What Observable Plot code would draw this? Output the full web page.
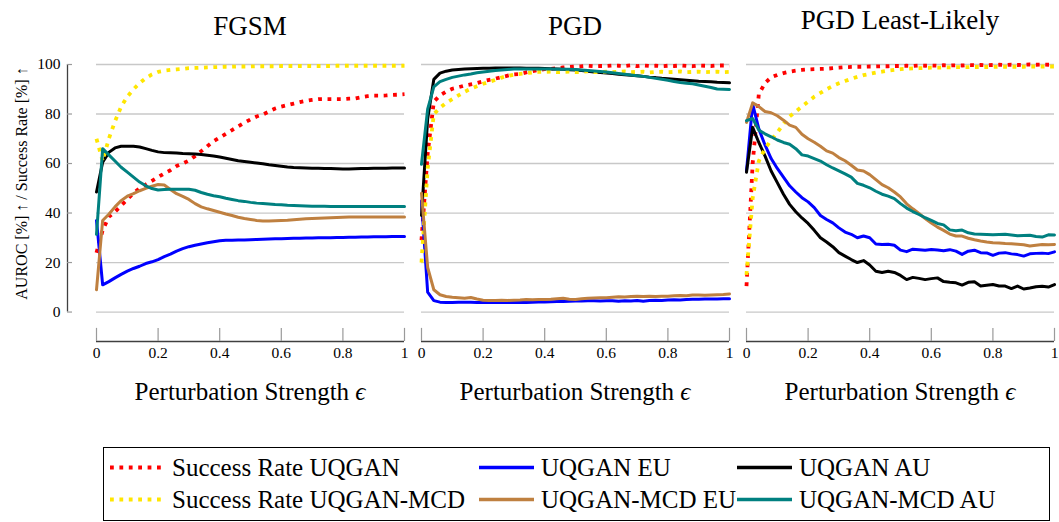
<!DOCTYPE html>
<html><head><meta charset="utf-8">
<script src="https://cdn.jsdelivr.net/npm/d3@7"></script>
<script src="https://cdn.jsdelivr.net/npm/@observablehq/plot@0.6"></script>
<style>
body{margin:0;background:#fff;}
#wrap{position:relative;width:1059px;height:522px;overflow:hidden;font-family:"Liberation Serif",serif;color:#000;}
.panel{position:absolute;top:0;}
.title{position:absolute;font-size:27px;transform:translateX(-50%);white-space:nowrap;line-height:1;}
.xt{position:absolute;font-size:25px;transform:translateX(-50%);white-space:nowrap;line-height:1;}
#legend{position:absolute;left:103px;top:447px;width:947px;height:74px;border:1px solid #000;box-sizing:border-box;}
.item{position:absolute;display:flex;align-items:center;font-size:25px;white-space:nowrap;transform:translateY(-50%);line-height:1;}
.item span{margin-left:7px;}
</style>
</head><body>
<div id="wrap"></div>
<script>
// ---------- data ----------
const panelTitles = ["FGSM", "PGD", "PGD Least-Likely"];
const seriesNames = ["Success Rate UQGAN", "UQGAN EU", "UQGAN AU", "Success Rate UQGAN-MCD", "UQGAN-MCD EU", "UQGAN-MCD AU"];
const seriesColors = ["#ff0000", "#0000ff", "#000000", "#ffe600", "#bf8040", "#008080"];
const seriesDotted = [true, false, false, true, false, false];
const xTicks = [0, 0.2, 0.4, 0.6, 0.8, 1];
const xTickLabels = ["0", "0.2", "0.4", "0.6", "0.8", "1"];
const yTicks = [0, 20, 40, 60, 80, 100];
const yTickLabels = ["0", "20", "40", "60", "80", "100"];
const xTitle = "Perturbation Strength ";
const yTitle = "AUROC [%] \u2191 / Success Rate [%] \u2191";

const eps = [0,0.02,0.04,0.06,0.08,0.1,0.12,0.14,0.16,0.18,
  0.2,0.22,0.24,0.26,0.28,0.3,0.32,0.34,0.36,0.38,
  0.4,0.42,0.44,0.46,0.48,0.5,0.52,0.54,0.56,0.58,
  0.6,0.62,0.64,0.66,0.68,0.7,0.72,0.74,0.76,0.78,
  0.8,0.82,0.84,0.86,0.88,0.9,0.92,0.94,0.96,0.98,1];

// FGSM
const fgsmSrUqgan = [24,33,38.5,40.5,43,45.5,48,50,51.5,53,
  54.5,56,57.3,59,60,61.2,63,65,67,69,
  70.5,72,73.5,75,76.5,77.8,79,79.8,81,82.2,
  83,83.6,84.2,84.8,85.3,85.7,86,86,86,86,
  86,86.2,86.3,86.8,87.2,87.4,87.4,87.5,87.7,87.8,88];
const fgsmEuUqgan = [37,11,12.3,13.8,15.2,16.5,17.6,18.5,19.6,20.3,
  21.2,22.4,23.4,24.6,25.6,26.4,27,27.5,28,28.4,
  28.8,29,29,29.1,29.1,29.2,29.3,29.4,29.5,29.6,
  29.6,29.7,29.8,29.8,29.9,29.9,30,30,30,30.1,
  30.1,30.2,30.2,30.3,30.3,30.4,30.4,30.4,30.5,30.5,30.5];
const fgsmAuUqgan = [48.5,60.5,64.5,66.3,67,67,67,66.7,66,65.3,
  64.7,64.4,64.3,64.2,64,63.9,63.8,63.6,63.3,63,
  62.6,62.1,61.6,61.1,60.8,60.5,60.2,59.9,59.5,59.2,
  58.9,58.6,58.4,58.3,58.2,58.1,58.1,58,58,57.9,
  57.8,57.8,57.9,58,58,58.1,58.1,58.1,58.2,58.2,58.2];
const fgsmSrMcd = [70,61,70,77,83,87,90,92.5,94.5,96,
  97,97.5,97.8,98,98.2,98.5,98.6,98.7,98.8,98.9,
  99,99.1,99.1,99.2,99.2,99.2,99.3,99.3,99.3,99.3,
  99.4,99.4,99.4,99.4,99.4,99.4,99.4,99.4,99.4,99.5,
  99.5,99.5,99.5,99.5,99.5,99.5,99.5,99.5,99.5,99.5,99.5];
const fgsmEuMcd = [9,37,39.5,42.5,45,46.8,47.8,49,50,50.8,
  51.5,51.3,49.5,47.8,46.7,45.5,43.8,42.5,41.7,41,
  40.3,39.6,39,38.3,37.8,37.4,37,36.8,36.8,36.9,
  37,37.1,37.3,37.5,37.7,37.8,37.9,38,38.1,38.2,
  38.3,38.4,38.4,38.4,38.4,38.4,38.4,38.4,38.4,38.4,38.4];
const fgsmAuMcd = [31.4,66,63.5,61,58.5,56.5,54.5,52.5,51,49.9,
  49.3,49.5,49.6,49.6,49.6,49.6,49.2,48.3,47.6,47,
  46.6,46,45.5,45,44.7,44.3,44,43.8,43.6,43.4,
  43.3,43.1,43,42.9,42.8,42.7,42.7,42.7,42.6,42.6,
  42.6,42.6,42.6,42.6,42.6,42.6,42.6,42.6,42.6,42.6,42.6];

// PGD
const pgdSrUqgan = [29,64,85,87.5,89,90.2,90.8,91.5,92,92.5,
  93.2,93.8,94.3,94.9,95.5,96,96.2,96.8,97.3,97.8,
  98.1,98.2,98.5,98.8,99,99.2,99.3,99.5,99.3,99.4,
  99.4,99.6,99.5,99.4,99.7,99.3,99.6,99.4,99.5,99.3,
  99.5,99.4,99.6,99.4,99.3,99.6,99.5,99.4,99.6,99.6,99.6];
const pgdEuUqgan = [45,8,4.6,4,3.9,3.9,4,4,4,3.9,
  3.9,3.9,3.9,4,3.9,3.9,4,3.9,4,4.1,
  4.1,4.2,4.3,4.3,4.4,4.5,4.5,4.6,4.6,4.5,
  4.6,4.6,4.4,4.6,4.5,4.7,4.4,4.7,4.8,4.7,
  4.9,5,4.9,5.1,5.2,5.2,5.3,5.3,5.3,5.4,5.4];
const pgdAuUqgan = [39,78,94,96.5,97.3,97.8,98,98.2,98.3,98.4,
  98.5,98.5,98.6,98.6,98.6,98.6,98.6,98.5,98.5,98.5,
  98.4,98.3,98.2,98.1,97.9,97.8,97.6,97.3,97,96.8,
  96.6,96.4,96.1,95.9,95.7,95.5,95.2,94.9,94.7,94.4,
  94.2,94,93.8,93.6,93.4,93.2,93.1,93,92.8,92.7,92.6];
const pgdSrMcd = [20,58,80,82.5,84.5,86,87.5,89,90.2,91.2,
  92.2,93,93.8,94.7,95.4,95.9,96.2,96.5,96.8,97,
  97,97.1,96.9,97,97.1,96.9,97,97.2,96.9,97,
  97.1,96.9,97,97.2,96.9,97,97.1,96.8,97,97.1,
  96.9,97,97.2,96.9,97,97.1,96.9,97,97.1,96.9,97];
const pgdEuMcd = [48,18,9,7,6.3,6,5.8,5.6,5.9,5.3,
  4.8,4.7,4.7,4.8,4.7,4.8,4.9,5.1,5,5.1,
  5.1,5.2,5.4,5.6,5.2,5.1,5.4,5.6,5.7,5.8,
  5.8,6,6.2,6.1,6.3,6.4,6.3,6.4,6.3,6.4,
  6.4,6.6,6.7,6.6,6.9,6.9,6.8,6.9,7,7.1,7.3];
const pgdAuMcd = [59.7,82,91,93.1,94,94.8,95.3,95.8,96.2,96.7,
  97,97.3,97.6,97.8,98,98.2,98.2,98.2,98.2,98.2,
  98.2,98.2,98.1,98.1,98.1,98,97.8,97.6,97.4,97.2,
  97,96.7,96.4,96.1,95.8,95.5,95.2,94.8,94.4,94,
  93.6,93.1,92.7,92.4,92.2,91.7,91.2,90.7,90.1,90,89.9];

// PGD Least-Likely
const llSrUqgan = [10.5,60,88,92.5,94.8,95.8,96.5,97.1,97.5,97.8,
  98,98.1,98.2,98.3,98.5,98.7,98.9,99,99.1,99.1,
  99.2,99.2,99.3,99.3,99.4,99.4,99.5,99.4,99.6,99.5,
  99.6,99.5,99.7,99.6,99.7,99.6,99.8,99.7,99.8,99.7,
  99.8,99.9,99.8,99.9,99.8,99.9,100,99.9,100,99.9,100];
const llEuUqgan = [57,84,74,67.5,62,58,54.5,51,48.5,46.2,
  44.5,42.2,39,37.4,36,34,32.3,31.4,30,30.7,
  30,27.5,27.3,27.4,27,25,24.4,25.4,25.2,25,
  25.3,25.1,24.8,25.2,24.6,23.3,24.6,25,24,23.9,
  22.9,23.8,24,23.5,23.2,22.6,23.5,23.7,23.8,23.6,24.3];
const llAuUqgan = [56.5,74.6,68.5,63.1,57,52.3,47.6,43.5,40.5,38,
  35.8,33,30,28.3,26.4,24,22.6,21.2,20,20.8,
  19,16.5,16,16.5,16,14.8,13.1,14,13.6,13.1,
  13.5,13.8,12.3,12,11.8,10.9,12,12.2,10.5,10.8,
  11.1,10.5,10.5,9.5,10.5,9.3,9.7,10.2,10.4,10.1,11.1];
const llSrMcd = [15,46,61,66,69.5,72.5,76,79,81,83,
  85,87,88.5,90,91.3,92.4,93.3,94.2,95,95.7,
  96.2,96.7,97.1,97.5,97.8,98.1,98.3,98.4,98.5,98.6,
  98.7,98.7,98.8,98.8,98.9,98.9,98.9,99,99,99,
  99,99.1,99.1,99.1,99.1,99.1,99.2,99.2,99.2,99.2,99.2];
const llEuMcd = [76.6,84.5,83,81,80.5,79.3,77.5,75.5,74.6,71.8,
  70,68.6,67,65.1,64.2,62.4,61.1,59.3,57.4,57,
  55.5,53.5,51.5,50.2,48.5,46.5,43.7,41.7,39.8,37.8,
  36,34.3,33,31.5,30.7,30.7,29.8,29.2,28.7,28.3,
  28,27.9,27.7,27.6,27.4,27.2,26.7,27,27.3,27.2,27.3];
const llAuMcd = [77.3,78.2,73.5,72,70.8,69.5,68.5,67.8,66,63.5,
  63,62,61,59.5,58.2,57,55.8,54.5,52,51.2,
  50.2,48.8,47.6,46.8,45.8,43.8,42,40.6,39.4,38.1,
  37,35.8,35.2,33.2,32.8,33.1,32,31.5,31.4,31.3,
  31.2,31.3,31.4,31.1,30.8,30.9,31,30.5,30.3,31.2,31.1];

const panelSeries = [
  [fgsmSrUqgan, fgsmEuUqgan, fgsmAuUqgan, fgsmSrMcd, fgsmEuMcd, fgsmAuMcd],
  [pgdSrUqgan, pgdEuUqgan, pgdAuUqgan, pgdSrMcd, pgdEuMcd, pgdAuMcd],
  [llSrUqgan, llEuUqgan, llAuUqgan, llSrMcd, llEuMcd, llAuMcd]
];

// ---------- layout ----------
const wrap = document.getElementById("wrap");
const yDomain = [-11.9, 100];
const layout = [
  {left: 0, width: 408, ml: 96, mr: 4, cx: 250, titleTop: 13},
  {left: 408, width: 325, ml: 13, mr: 4, cx: 575, titleTop: 13},
  {left: 733, width: 326, ml: 13, mr: 5, cx: 900, titleTop: 7}
];
const DOT = {strokeWidth: 3.8, strokeDasharray: "3.8,5.6", strokeLinecap: "butt"};

function lineMark(values, k) {
  const base = {x: (d, i) => eps[i], y: d => d, stroke: seriesColors[k]};
  if (seriesDotted[k]) return Plot.line(values, {...base, ...DOT});
  return Plot.line(values, {...base, strokeWidth: 3, strokeLinejoin: "round"});
}

layout.forEach((L, p) => {
  const innerW = L.width - L.ml - L.mr;
  const axisX = -29 / innerW;
  const marks = [
    Plot.ruleY(yTicks, {stroke: "#c8c8c8", strokeWidth: 1.3}),
    Plot.ruleY([yDomain[0]], {stroke: "#404040", strokeWidth: 1.3}),
    Plot.ruleX(xTicks, {y1: yDomain[0], y2: yDomain[0] + 5.3, stroke: "#9a9a9a", strokeWidth: 1.2}),
    Plot.text(xTicks, {x: d => d, frameAnchor: "bottom", dy: 16, text: (d, i) => xTickLabels[i], fontSize: 15.5})
  ];
  if (p === 0) {
    marks.push(
      Plot.ruleX([axisX], {y1: 0, y2: 100, stroke: "#404040", strokeWidth: 1.3}),
      Plot.ruleY(yTicks, {x1: axisX, x2: axisX + 5 / innerW, stroke: "#9a9a9a", strokeWidth: 1.2}),
      Plot.text(yTicks, {y: d => d, frameAnchor: "left", dx: -36, textAnchor: "end", text: (d, i) => yTickLabels[i], fontSize: 15.5}),
      Plot.text([yTitle], {frameAnchor: "top-left", dx: 21 - L.ml, dy: 119, rotate: -90, textAnchor: "middle", lineAnchor: "middle", fontSize: 16})
    );
  }
  panelSeries[p].forEach((vals, k) => marks.push(lineMark(vals, k)));
  const svg = Plot.plot({
    width: L.width, height: 380,
    marginTop: 64, marginBottom: 39, marginLeft: L.ml, marginRight: L.mr,
    x: {domain: [0, 1], axis: null},
    y: {domain: yDomain, axis: null},
    style: {fontFamily: "'Liberation Serif', serif", fontSize: "15px", color: "#000", background: "transparent", overflow: "visible"},
    marks
  });
  const div = document.createElement("div");
  div.className = "panel";
  div.style.left = L.left + "px";
  div.appendChild(svg);
  wrap.appendChild(div);

  const t = document.createElement("div");
  t.className = "title";
  t.style.left = L.cx + "px";
  t.style.top = L.titleTop + "px";
  t.textContent = panelTitles[p];
  wrap.appendChild(t);

  const xt = document.createElement("div");
  xt.className = "xt";
  xt.style.left = L.cx + "px";
  xt.style.top = "379px";
  xt.appendChild(document.createTextNode(xTitle));
  const e = document.createElement("i");
  e.textContent = "\u03f5";
  xt.appendChild(e);
  wrap.appendChild(xt);
});

// ---------- legend ----------
const legend = document.createElement("div");
legend.id = "legend";
const colLeft = [6, 375, 633];
const rowMid = [19, 51];
seriesNames.forEach((name, k) => {
  const item = document.createElement("div");
  item.className = "item";
  item.style.left = colLeft[k % 3] + "px";
  item.style.top = rowMid[Math.floor(k / 3)] + "px";
  const ns = "http://www.w3.org/2000/svg";
  const s = document.createElementNS(ns, "svg");
  s.setAttribute("width", 55); s.setAttribute("height", 10);
  const ln = document.createElementNS(ns, "line");
  ln.setAttribute("x1", 0); ln.setAttribute("x2", 55);
  ln.setAttribute("y1", 5); ln.setAttribute("y2", 5);
  ln.setAttribute("stroke", seriesColors[k]);
  if (seriesDotted[k]) { ln.setAttribute("stroke-width", DOT.strokeWidth); ln.setAttribute("stroke-dasharray", DOT.strokeDasharray); }
  else ln.setAttribute("stroke-width", 3.5);
  s.appendChild(ln);
  item.appendChild(s);
  const sp = document.createElement("span");
  sp.textContent = name;
  item.appendChild(sp);
  legend.appendChild(item);
});
wrap.appendChild(legend);
</script>
</body></html>
